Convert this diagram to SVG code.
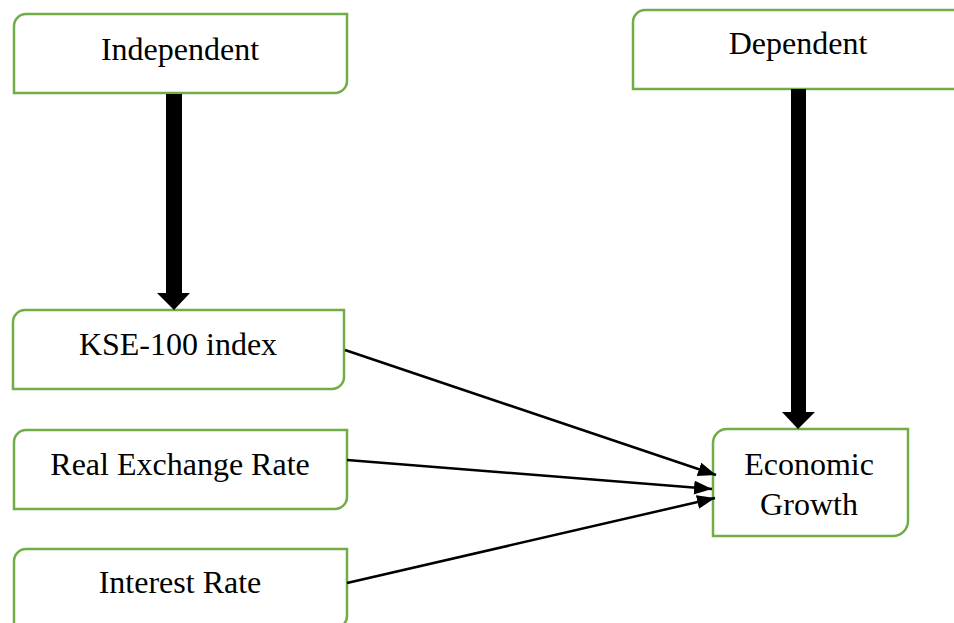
<svg xmlns="http://www.w3.org/2000/svg" width="954" height="623" viewBox="0 0 954 623">
<style>
.box{fill:#ffffff;stroke:#70AD47;stroke-width:2.5}
.lbl{font-family:"Liberation Serif","Times New Roman",serif;font-size:32px;fill:#000;text-anchor:middle}
.thin{stroke:#000;stroke-width:2.5;fill:none;marker-end:url(#ah)}
.thick{fill:#000}
</style>
<defs>
<marker id="ah" markerUnits="userSpaceOnUse" markerWidth="20" markerHeight="16" refX="18" refY="7" orient="auto">
<polygon points="0,0 18,7 0,14" fill="#000"/>
</marker>
</defs>
<rect width="954" height="623" fill="#ffffff"/>
<g id="independent">
<path class="box" d="M26,14 H347 V81 A12,12 0 0 1 335,93 H14 V26 A12,12 0 0 1 26,14 Z"/>
<text class="lbl" x="180" y="60">Independent</text>
</g>
<g id="dependent">
<path class="box" d="M645,10 H960 V89 H633 V22 A12,12 0 0 1 645,10 Z"/>
<text class="lbl" x="798" y="54">Dependent</text>
</g>
<g id="kse">
<path class="box" d="M25,310 H344 V377 A12,12 0 0 1 332,389 H13 V322 A12,12 0 0 1 25,310 Z"/>
<text class="lbl" x="178" y="355">KSE-100 index</text>
</g>
<g id="rer">
<path class="box" d="M26,430 H347 V497 A12,12 0 0 1 335,509 H14 V442 A12,12 0 0 1 26,430 Z"/>
<text class="lbl" x="180" y="475">Real Exchange Rate</text>
</g>
<g id="interest">
<path class="box" d="M26,549 H347 V616 A12,12 0 0 1 335,628 H14 V561 A12,12 0 0 1 26,549 Z"/>
<text class="lbl" x="180" y="593">Interest Rate</text>
</g>
<g id="growth">
<path class="box" d="M727,429 H908 V521 A15,15 0 0 1 893,536 H713 V443 A14,14 0 0 1 727,429 Z"/>
<text class="lbl" x="809" y="475">Economic</text>
<text class="lbl" x="809" y="515">Growth</text>
</g>
<g id="connectors">
<polygon class="thick" points="166,94 182,94 182,293 190,293 174,310 157,293 166,293"/>
<polygon class="thick" points="791,89 806,89 806,412 815,412 798,429 782,412 791,412"/>
<line class="thin" x1="345" y1="350" x2="716" y2="475"/>
<line class="thin" x1="347" y1="460" x2="712" y2="489"/>
<line class="thin" x1="347" y1="583" x2="715" y2="498"/>
</g>
</svg>
